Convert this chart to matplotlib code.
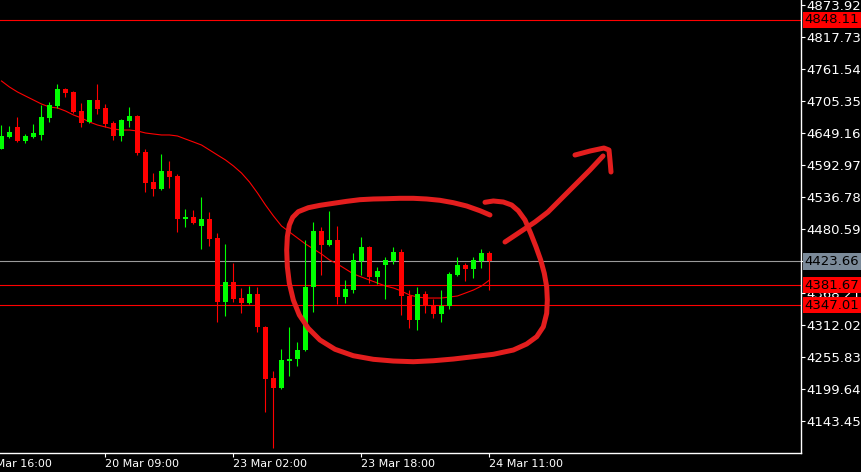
import matplotlib
matplotlib.use('Agg')
import matplotlib.pyplot as plt

# hourly candles, 19 Mar .. 24 Mar
opens = [4621.6, 4642.1, 4659.7, 4635.1, 4642.1, 4645.7, 4675.5, 4696.6, 4726.4, 4721.2,
         4687.8, 4668.5, 4707.1, 4693.1, 4666.7, 4643.9, 4670.2, 4679.0, 4615.8, 4563.1,
         4550.8, 4582.4, 4573.7, 4498.2, 4501.7, 4485.9, 4498.2, 4464.8, 4352.4, 4387.5,
         4359.4, 4350.7, 4366.5, 4308.5, 4219.0, 4201.4, 4248.8, 4252.3, 4268.1, 4378.8,
         4477.1, 4452.5, 4461.3, 4361.2, 4373.5, 4424.4, 4449.0, 4396.3, 4417.4, 4424.4,
         4440.2, 4363.0, 4320.8, 4366.5, 4345.4, 4331.3, 4345.4, 4399.8, 4417.4, 4410.4,
         4424.4, 4438.5]
highs = [4663.2, 4661.5, 4677.3, 4647.4, 4665.0, 4698.3, 4703.6, 4735.2, 4728.2, 4722.9,
         4701.8, 4707.1, 4735.2, 4700.1, 4670.2, 4673.7, 4694.8, 4680.0, 4621.1, 4578.9,
         4612.3, 4600.0, 4577.2, 4515.7, 4514.0, 4536.8, 4510.4, 4473.6, 4454.3, 4420.9,
         4377.0, 4380.5, 4378.8, 4310.3, 4231.3, 4269.9, 4308.5, 4282.2, 4461.3, 4492.9,
         4484.1, 4512.2, 4485.9, 4391.0, 4438.5, 4466.5, 4450.7, 4413.9, 4431.4, 4449.0,
         4445.5, 4373.5, 4378.8, 4371.7, 4357.7, 4373.5, 4405.1, 4431.4, 4420.9, 4431.4,
         4445.5, 4442.0]
lows = [4621.1, 4640.4, 4633.4, 4631.6, 4640.4, 4636.9, 4668.5, 4693.1, 4712.4, 4684.3,
        4659.7, 4666.7, 4682.5, 4659.7, 4636.9, 4635.1, 4659.7, 4610.5, 4545.6, 4538.5,
        4549.1, 4552.6, 4475.3, 4484.1, 4489.4, 4445.5, 4450.7, 4317.3, 4327.8, 4352.4,
        4333.1, 4348.9, 4299.7, 4159.3, 4096.1, 4199.7, 4222.5, 4240.0, 4266.4, 4334.9,
        4399.8, 4450.7, 4348.9, 4350.7, 4368.2, 4399.8, 4385.8, 4384.0, 4357.7, 4419.1,
        4329.6, 4306.8, 4303.3, 4333.1, 4324.3, 4317.3, 4340.1, 4398.1, 4389.3, 4394.6,
        4412.1, 4373.5]
closes = [4643.9, 4650.9, 4635.1, 4643.9, 4649.2, 4677.3, 4698.3, 4726.4, 4719.4, 4686.0,
          4666.7, 4707.1, 4691.3, 4665.0, 4643.9, 4672.0, 4679.0, 4614.0, 4561.4, 4550.8,
          4582.4, 4571.9, 4498.2, 4501.7, 4491.1, 4498.2, 4463.0, 4352.4, 4387.5, 4357.7,
          4350.7, 4366.5, 4308.5, 4217.2, 4201.4, 4250.6, 4252.3, 4268.1, 4378.8, 4477.1,
          4452.5, 4461.3, 4361.2, 4375.2, 4426.2, 4449.0, 4396.3, 4406.8, 4426.2, 4440.2,
          4363.0, 4320.8, 4366.5, 4345.4, 4331.3, 4345.4, 4401.6, 4417.4, 4410.4, 4426.2,
          4438.5, 4423.66]
ma = [4740.5, 4729.9, 4721.2, 4714.1, 4707.1, 4700.1, 4694.8, 4693.1, 4687.8, 4680.8,
      4675.5, 4668.5, 4663.2, 4659.7, 4656.2, 4654.4, 4654.4, 4652.7, 4649.2, 4647.4,
      4645.7, 4645.7, 4643.9, 4638.6, 4633.4, 4628.1, 4619.3, 4610.5, 4601.8, 4591.2,
      4578.9, 4563.1, 4543.8, 4522.7, 4503.4, 4485.9, 4475.3, 4464.8, 4454.3, 4445.5,
      4436.7, 4426.2, 4419.1, 4410.4, 4401.6, 4396.3, 4391.0, 4385.8, 4380.5, 4377.0,
      4371.7, 4364.7, 4361.2, 4359.4, 4359.4, 4359.4, 4361.2, 4363.0, 4368.2, 4373.5,
      4380.5, 4391.0]

price_ticks = [4873.92, 4817.73, 4761.54, 4705.35, 4649.16, 4592.97, 4536.78, 4480.59,
               4424.40, 4368.21, 4312.02, 4255.83, 4199.64, 4143.45]
time_pos = [13, 29, 45, 61]
time_labels = ['20 Mar 09:00', '23 Mar 02:00', '23 Mar 18:00', '24 Mar 11:00']
first_label_pos = -3
first_label = '19 Mar 16:00'

# horizontal lines: (price, line colour, label box colour)
levels = [(4848.11, '#ff0000', '#ff0000'),
          (4423.66, '#9a9a9a', '#7b8a99'),
          (4381.67, '#ff0000', '#ff0000'),
          (4347.01, '#ff0000', '#ff0000')]

# hand drawn circle and arrow (bar index, price)
circle_x = [61.06, 59.81, 58.15, 56.48, 54.81, 53.15, 51.48, 49.81, 48.15, 46.48, 44.81,
            43.15, 41.48, 39.81, 38.35, 37.10, 36.40, 35.98, 35.73, 35.65, 35.73, 35.98,
            36.48, 37.23, 38.35, 39.81, 41.69, 43.98, 46.48, 48.98, 51.48, 53.98, 56.48,
            58.98, 61.48, 63.98, 65.65, 66.90, 67.73, 68.15, 68.23, 68.15, 67.85, 67.40,
            66.81, 66.15, 65.44, 64.60, 63.77, 62.73, 61.48, 60.44]
circle_y = [4505.2, 4512.7, 4521.0, 4526.8, 4531.0, 4533.3, 4534.5, 4534.5, 4533.8, 4533.3,
            4532.1, 4529.2, 4525.7, 4522.2, 4518.0, 4511.0, 4501.1, 4487.6, 4467.1, 4443.7,
            4414.4, 4385.2, 4355.9, 4329.6, 4306.2, 4285.7, 4269.4, 4258.1, 4251.8, 4248.8,
            4247.6, 4249.3, 4252.3, 4256.4, 4260.6, 4268.1, 4278.7, 4291.5, 4309.0, 4332.5,
            4355.9, 4379.3, 4402.8, 4426.2, 4449.5, 4473.0, 4496.4, 4512.7, 4522.7, 4528.0,
            4529.8, 4527.5]
arrow_x = [62.94, 64.81, 66.69, 68.31, 69.81, 71.69, 73.56, 75.19]
arrow_y = [4457.8, 4475.3, 4492.9, 4510.4, 4531.5, 4557.9, 4584.2, 4608.8]
head_x = [71.69, 73.56, 75.31, 75.94, 76.06, 76.19]
head_y = [4610.5, 4617.5, 4622.8, 4619.3, 4601.8, 4580.7]

fig = plt.figure(figsize=(8.62, 4.72), dpi=100, facecolor='black')
ax = fig.add_axes([0, 19 / 472, 801 / 862, 453 / 472], facecolor='black')

x = list(range(len(opens)))
colors = ['#00ff00' if c >= o else '#ff0000' for o, c in zip(opens, closes)]

for p, lc, bc in levels:
    ax.axhline(p, color=lc, lw=0.8, zorder=1)

ax.plot(x, ma, color='#ff0000', lw=0.8, zorder=1.5)
ax.vlines(x, lows, highs, colors=colors, linewidth=0.8, zorder=2)
ax.bar(x, [c - o for o, c in zip(opens, closes)], bottom=opens, width=0.625,
       color=colors, linewidth=0, zorder=3)

pen = dict(color='#e31e1e', lw=3.6, solid_capstyle='round', solid_joinstyle='round', zorder=6)
ax.plot(circle_x, circle_y, **pen)
ax.plot(arrow_x, arrow_y, **pen)
ax.plot(head_x, head_y, **pen)

ax.set_xlim(-0.1875, 99.94)
ax.set_ylim(4087.3, 4882.7)

for s in ['top', 'left']:
    ax.spines[s].set_visible(False)
for s in ['right', 'bottom']:
    ax.spines[s].set_color('white')
    ax.spines[s].set_linewidth(1)

ax.yaxis.tick_right()
ax.set_yticks(price_ticks)
ax.set_yticklabels([f'{p:.2f}' for p in price_ticks])
ax.set_xticks(time_pos)
ax.set_xticklabels(time_labels)
for lab in ax.get_xticklabels():
    lab.set_ha('left')
ax.tick_params(axis='y', colors='white', length=3, width=0.8, pad=1, labelsize=9.5)
ax.tick_params(axis='x', colors='white', length=3, width=0.8, pad=1, labelsize=8)

ax.annotate(first_label, xy=(first_label_pos, 0), xycoords=('data', 'axes fraction'),
            xytext=(0, -4), textcoords='offset points', ha='left', va='top',
            fontsize=8, color='white', annotation_clip=False)

for p, lc, bc in levels:
    ax.annotate(f'{p:.2f}', xy=(1, p), xycoords=('axes fraction', 'data'),
                xytext=(2.6, 0), textcoords='offset points', ha='left', va='center',
                fontsize=9.5, color='black', annotation_clip=False, zorder=5,
                bbox=dict(boxstyle='square,pad=0.12', fc=bc, ec='none'))

fig.savefig('out.png', dpi=100, facecolor='black')
